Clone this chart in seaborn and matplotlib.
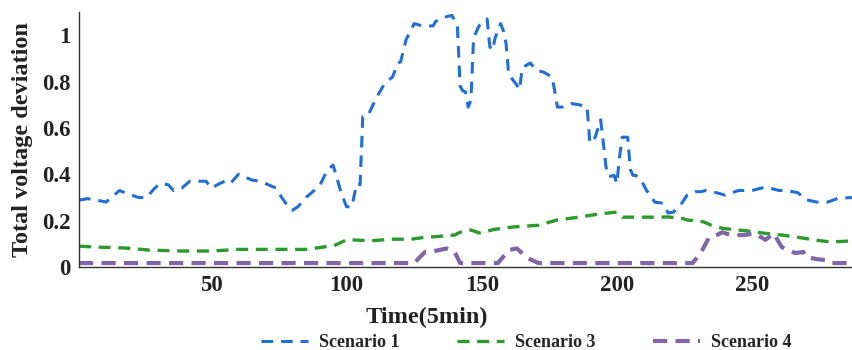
import matplotlib
matplotlib.use("Agg")
import matplotlib.pyplot as plt
import pandas as pd
import seaborn as sns

# Scenario 1 (blue)
x_s1 = [1, 2, 4, 7, 11, 14, 16, 18, 23, 26, 29, 31, 34, 36, 39, 42, 45, 48, 50, 53,
        55, 57, 60, 62, 65, 68, 70, 74, 76, 79, 80, 82, 85, 90, 93, 95, 96, 98, 100, 102,
        103, 104, 105, 106, 108, 111, 114, 117, 119, 120, 122, 125, 128, 132, 133, 137, 139, 141, 142, 143,
        144, 145, 146, 147, 149, 151, 152, 153, 154, 155, 157, 158, 159, 160, 163, 164, 165, 168, 170, 173,
        176, 177, 178, 180, 183, 186, 189, 190, 192, 194, 195, 196, 197, 199, 200, 201, 202, 204, 205, 206,
        207, 209, 211, 214, 217, 219, 221, 224, 226, 229, 231, 233, 237, 240, 245, 250, 255, 260, 263, 267,
        270, 274, 278, 282, 288]
y_s1 = [0.29, 0.29, 0.295, 0.29, 0.28, 0.31, 0.33, 0.32, 0.30, 0.30, 0.34, 0.36, 0.355, 0.33, 0.34, 0.37, 0.37, 0.37, 0.34, 0.36,
        0.37, 0.36, 0.40, 0.39, 0.375, 0.37, 0.36, 0.34, 0.30, 0.25, 0.245, 0.26, 0.30, 0.35, 0.42, 0.44, 0.40, 0.32, 0.26, 0.26,
        0.32, 0.36, 0.355, 0.65, 0.655, 0.73, 0.79, 0.82, 0.88, 0.885, 0.98, 1.05, 1.04, 1.04, 1.06, 1.08, 1.085, 1.04, 0.78, 0.76,
        0.755, 0.69, 0.72, 0.99, 1.04, 1.065, 1.07, 0.95, 0.935, 0.99, 1.05, 1.02, 0.965, 0.83, 0.785, 0.765, 0.86, 0.88, 0.85, 0.84,
        0.82, 0.76, 0.69, 0.69, 0.705, 0.70, 0.69, 0.535, 0.56, 0.635, 0.535, 0.43, 0.39, 0.395, 0.36, 0.475, 0.56, 0.56, 0.42, 0.395,
        0.395, 0.375, 0.33, 0.28, 0.275, 0.233, 0.237, 0.275, 0.31, 0.325, 0.325, 0.33, 0.32, 0.31, 0.33, 0.33, 0.345, 0.33, 0.33, 0.32,
        0.29, 0.28, 0.28, 0.297, 0.30]

# Scenario 3 (green)
x_s3 = [1, 7, 18, 27, 39, 50, 60, 70, 79, 85, 92, 95, 100, 102, 109, 117, 124, 130, 132, 140,
        142, 146, 149, 155, 162, 171, 178, 186, 193, 200, 202, 208, 216, 219, 224, 226, 232, 235, 239, 242,
        248, 255, 261, 267, 273, 279, 288]
y_s3 = [0.09, 0.086, 0.082, 0.073, 0.069, 0.069, 0.076, 0.076, 0.076, 0.076, 0.087, 0.09, 0.117, 0.117, 0.113, 0.12, 0.12, 0.13, 0.13, 0.138,
        0.15, 0.16, 0.147, 0.163, 0.173, 0.18, 0.203, 0.215, 0.228, 0.237, 0.215, 0.215, 0.215, 0.216, 0.21, 0.203, 0.195, 0.18, 0.167, 0.163,
        0.156, 0.145, 0.138, 0.128, 0.117, 0.108, 0.113]

# Scenario 4 (purple)
x_s4 = [1, 125, 129, 133, 137, 140, 142, 156, 160, 163, 167, 171, 228, 231, 234, 237, 239, 242, 247, 251,
        255, 258, 261, 266, 269, 270, 274, 277, 279, 288]
y_s4 = [0.017, 0.017, 0.065, 0.07, 0.08, 0.065, 0.017, 0.017, 0.073, 0.08, 0.038, 0.017, 0.017, 0.06, 0.125, 0.138, 0.15, 0.138, 0.138, 0.145,
        0.117, 0.145, 0.086, 0.06, 0.065, 0.043, 0.034, 0.03, 0.017, 0.017]

labels = ["Scenario 1", "Scenario 3", "Scenario 4"]
colors = ["#1f6fd6", "#2a9a2a", "#8065a8"]
widths = [2.2, 2.4, 3.0]
dash_styles = [(0, (3.8, 2.6)), (0, (3.6, 2.3)), (0, (3.4, 2.0))]
x_ticks = [50, 100, 150, 200, 250]
y_ticks = [0, 0.2, 0.4, 0.6, 0.8, 1]

sns.set_style("white")
plt.rcParams["font.family"] = ["Liberation Serif", "DejaVu Serif"]
plt.rcParams["font.weight"] = "bold"

fig = plt.figure(figsize=(8.52, 3.5), dpi=100)
ax = fig.add_axes([79 / 852, 1 - 267 / 350, 1 - 79 / 852, 255 / 350])

for xs, ys, lab, col, lw, ls in zip([x_s1, x_s3, x_s4], [y_s1, y_s3, y_s4],
                                    labels, colors, widths, dash_styles):
    df = pd.DataFrame({"t": xs, "v": ys})
    sns.lineplot(data=df, x="t", y="v", ax=ax, color=col, linewidth=lw,
                 linestyle=ls, label=lab)

ax.set_xlim(1, 287)
ax.set_ylim(0, 1.1)
ax.set_xticks(x_ticks)
ax.set_yticks(y_ticks)
ax.set_yticklabels([f"{v:g}" for v in y_ticks])
ax.tick_params(direction="in", length=7, width=1, colors="#333333",
               labelcolor="#222222", labelsize=16.5, pad=6)
for s in ["top", "right"]:
    ax.spines[s].set_visible(False)
for s in ["left", "bottom"]:
    ax.spines[s].set_color("#333333")
    ax.spines[s].set_linewidth(1)

ax.set_xlabel("Time(5min)", fontsize=17.5, fontweight="bold", color="#222222")
ax.xaxis.set_label_coords((427 - 79) / (852 - 79), -0.155)
ax.set_ylabel("Total voltage deviation", fontsize=17.5, fontweight="bold", color="#222222")
ax.yaxis.set_label_coords(-0.06, 0.5)

handles, labs = ax.get_legend_handles_labels()
ax.legend_.remove()
fig.legend(handles, labs, loc="lower center", bbox_to_anchor=(526 / 852, -0.05),
           ncol=3, frameon=False, handlelength=2.6,
           columnspacing=3.2, handletextpad=0.6,
           prop={"family": "Liberation Serif", "weight": "bold", "size": 13})

fig.savefig("out.png", dpi=100)
